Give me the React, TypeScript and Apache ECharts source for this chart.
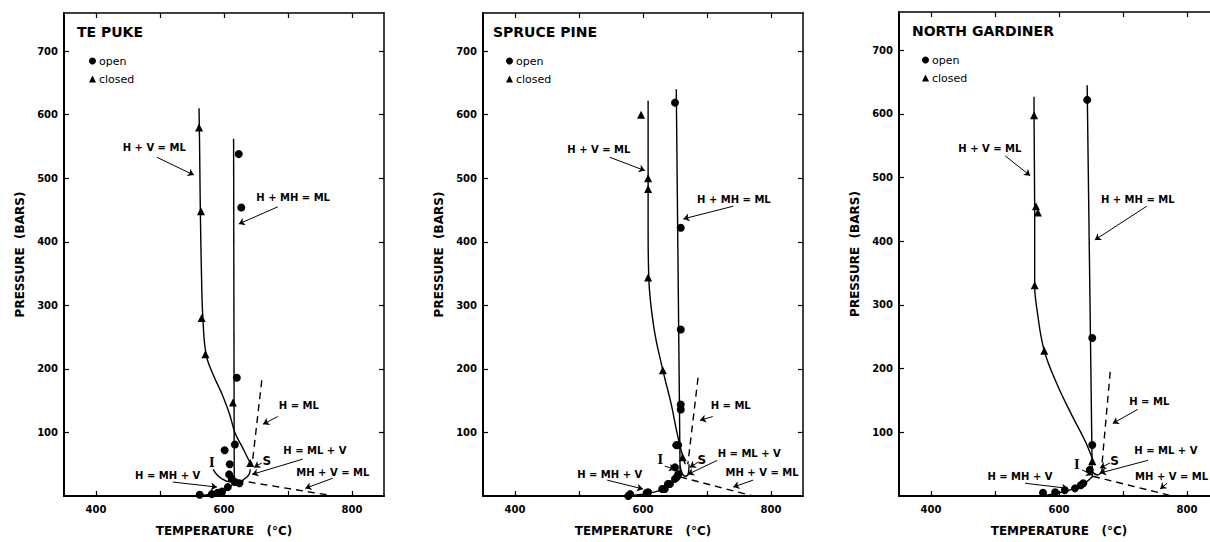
import React, { useEffect, useRef } from "react";
import * as echarts from "echarts";

// ---- shared axis values ----
const xTickValues = [400, 500, 600, 700, 800];
const xLabelValues = [400, 600, 800];
const yTickValues = [100, 200, 300, 400, 500, 600, 700];
const panelNames = ["TE PUKE", "SPRUCE PINE", "NORTH GARDINER"];

// ---- TE PUKE ----
const tpOpen = [[623, 538], [627, 454], [620, 186], [617, 81], [601, 72], [609, 50], [608, 34], [617, 22], [624, 20], [612, 27], [606, 14], [597, 7], [590, 5], [581, 3], [562, 2]];
const tpClosed = [[561, 580], [564, 448], [565, 280], [571, 223], [614, 147], [641, 52]];
const tpHVML = [[561, 610], [562, 540], [563, 450], [565, 340], [567, 280], [572, 223], [583, 191], [597, 160], [609, 128], [617, 100], [628, 78], [641, 52]];
const tpHMHML = [[615, 562], [616, 22]];
const tpHML = [[659, 182], [644, 50]];
const tpLoop = [[583, 42], [597, 27], [617, 22], [636, 30], [641, 42]];
const tpMHVML = [[620, 25], [772, 0]];
const tpHMHV = [[555, 0], [580, 3], [600, 8], [610, 15], [618, 24]];
const tpText = [["H + V = ML", 491, 548], ["H + MH = ML", 708, 469], ["H = ML", 717, 142], ["H = ML + V", 742, 72], ["MH + V = ML", 770, 37], ["H = MH + V", 512, 33], ["S", 667, 55], ["I", 581, 52]];
const tpArrows = [[495, 533, 553, 505], [684, 455, 623, 428], [684, 125, 661, 113], [723, 58, 644, 34], [770, 28, 727, 12], [520, 22, 589, 14], [659, 52, 647, 45]];

// ---- SPRUCE PINE ----
const spOpen = [[650, 619], [659, 422], [659, 262], [659, 144], [659, 136], [655, 80], [652, 80], [650, 45], [655, 34], [653, 30], [650, 27], [642, 19], [639, 19], [634, 11], [630, 11], [608, 6], [606, 5], [580, 3], [577, 0]];
const spClosed = [[597, 600], [608, 500], [608, 483], [608, 344], [631, 198], [662, 61]];
const spHVML = [[608, 622], [608, 500], [608, 420], [609, 344], [617, 265], [631, 198], [644, 145], [653, 100], [660, 70], [666, 50]];
const spHMHML = [[652, 640], [658, 35]];
const spHML = [[686, 186], [670, 50]];
const spLoop = [[658, 48], [661, 36], [666, 31], [671, 36], [672, 50]];
const spMHVML = [[658, 30], [772, 0]];
const spHMHV = [[570, 0], [600, 3], [630, 10], [648, 22], [658, 30]];
const spText = [["H + V = ML", 531, 545], ["H + MH = ML", 742, 466], ["H = ML", 737, 142], ["H = ML + V", 766, 67], ["MH + V = ML", 786, 37], ["H = MH + V", 548, 34], ["S", 692, 56], ["I", 627, 56]];
const spArrows = [[548, 533, 603, 512], [741, 456, 663, 436], [709, 125, 689, 119], [716, 56, 670, 34], [772, 25, 741, 14], [544, 25, 600, 11], [686, 53, 673, 45], [634, 47, 650, 42]];

// ---- NORTH GARDINER ----
const ngOpen = [[644, 622], [652, 248], [652, 80], [648, 41], [638, 20], [634, 17], [625, 12], [609, 9], [594, 6], [575, 5]];
const ngClosed = [[561, 598], [564, 455], [567, 445], [562, 331], [577, 228], [652, 55]];
const ngHVML = [[561, 627], [561, 598], [562, 455], [562, 331], [566, 290], [577, 228], [598, 173], [620, 127], [641, 86], [656, 48]];
const ngHMHML = [[644, 645], [652, 30]];
const ngHML = [[680, 195], [667, 48]];
const ngLoop = [[648, 48], [652, 38], [660, 33], [666, 38], [668, 48]];
const ngMHVML = [[653, 31], [777, 0]];
const ngHMHV = [[570, 0], [600, 5], [625, 12], [640, 20], [653, 31]];
const ngText = [["H + V = ML", 492, 545], ["H + MH = ML", 723, 466], ["H = ML", 741, 148], ["H = ML + V", 767, 72], ["MH + V = ML", 776, 31], ["H = MH + V", 539, 31], ["S", 687, 55], ["I", 628, 48]];
const ngArrows = [[516, 534, 555, 503], [737, 455, 656, 402], [723, 136, 684, 114], [739, 56, 664, 36], [769, 20, 758, 11], [547, 20, 614, 12], [680, 52, 664, 44], [636, 41, 652, 33]];

const panels = [
  { open: tpOpen, closed: tpClosed, hvml: tpHVML, hmhml: tpHMHML, hml: tpHML, loop: tpLoop, mhvml: tpMHVML, hmhv: tpHMHV, text: tpText, arrows: tpArrows },
  { open: spOpen, closed: spClosed, hvml: spHVML, hmhml: spHMHML, hml: spHML, loop: spLoop, mhvml: spMHVML, hmhv: spHMHV, text: spText, arrows: spArrows },
  { open: ngOpen, closed: ngClosed, hvml: ngHVML, hmhml: ngHMHML, hml: ngHML, loop: ngLoop, mhvml: ngMHVML, hmhv: ngHMHV, text: ngText, arrows: ngArrows },
];

// layout (pixels)
const gridLayout = [
  { left: 64, top: 13 },
  { left: 483, top: 13 },
  { left: 899, top: 12 },
];
const legendPos = [
  { left: 89, top: 55 },
  { left: 506, top: 55 },
  { left: 922, top: 54 },
];
const titlePos = [
  { left: 77, top: 25 },
  { left: 493, top: 25 },
  { left: 912, top: 24 },
];

const SANS = "DejaVu Sans";
const INK = "#000";

function buildOption() {
  const grid = gridLayout.map((g) => ({ left: g.left, top: g.top, width: 320, height: 486, show: false }));
  const xAxis: any[] = [];
  const yAxis: any[] = [];
  for (let i = 0; i < 3; i++) {
    xAxis.push({
      type: "value", gridIndex: i, min: 350, max: 850, position: "bottom",
      axisLine: { show: true, onZero: false, lineStyle: { color: INK, width: 2 } },
      axisTick: { show: true, inside: true, length: 5, customValues: xTickValues, lineStyle: { color: INK, width: 1.2 } },
      axisLabel: { show: true, customValues: xLabelValues, margin: 8, color: INK, fontFamily: SANS, fontSize: 10, fontWeight: "bold" },
      splitLine: { show: false },
      name: "TEMPERATURE   (°C)", nameLocation: "middle", nameGap: 29,
      nameTextStyle: { color: INK, fontFamily: SANS, fontSize: 12, fontWeight: "bold" },
    });
  }
  for (let i = 0; i < 3; i++) {
    xAxis.push({
      type: "value", gridIndex: i, min: 350, max: 850, position: "top",
      axisLine: { show: true, onZero: false, lineStyle: { color: INK, width: 1.5 } },
      axisTick: { show: true, inside: true, length: 5, customValues: xTickValues, lineStyle: { color: INK, width: 1.2 } },
      axisLabel: { show: false },
      splitLine: { show: false },
    });
  }
  for (let i = 0; i < 3; i++) {
    yAxis.push({
      type: "value", gridIndex: i, min: 0, max: 760, position: "left",
      axisLine: { show: true, onZero: false, lineStyle: { color: INK, width: 2 } },
      axisTick: { show: true, inside: true, length: 5, customValues: yTickValues, lineStyle: { color: INK, width: 1.2 } },
      axisLabel: { show: true, customValues: yTickValues, margin: 6, color: INK, fontFamily: SANS, fontSize: 10, fontWeight: "bold" },
      splitLine: { show: false },
      name: "PRESSURE  (BARS)", nameLocation: "middle", nameGap: 38, nameRotate: 90,
      nameTextStyle: { color: INK, fontFamily: SANS, fontSize: 12, fontWeight: "bold" },
    });
  }
  for (let i = 0; i < 3; i++) {
    yAxis.push({
      type: "value", gridIndex: i, min: 0, max: 760, position: "right",
      axisLine: { show: true, onZero: false, lineStyle: { color: INK, width: 1.5 } },
      axisTick: { show: true, inside: true, length: 5, customValues: yTickValues, lineStyle: { color: INK, width: 1.2 } },
      axisLabel: { show: false },
      splitLine: { show: false },
    });
  }

  const series: any[] = [];
  panels.forEach((p, i) => {
    const base = { xAxisIndex: i, yAxisIndex: i, silent: true, animation: false };
    const lineOf = (data: number[][], dashed: boolean, smooth: boolean | number) => ({
      ...base, type: "line", data, symbol: "none", smooth,
      lineStyle: { color: INK, width: 1.4, type: dashed ? [7, 5] : "solid" },
      z: 2,
    });
    series.push(lineOf(p.hvml, false, 0.4));
    series.push(lineOf(p.hmhml, false, false));
    series.push(lineOf(p.hml, true, false));
    series.push(lineOf(p.loop, false, 0.5));
    series.push(lineOf(p.mhvml, true, false));
    series.push(lineOf(p.hmhv, false, 0.4));
    series.push({
      ...base, type: "scatter", name: "open", symbol: "circle", symbolSize: 8,
      itemStyle: { color: INK, opacity: 1 }, data: p.open, z: 3,
    });
    series.push({
      ...base, type: "scatter", name: "closed", symbol: "triangle", symbolSize: 8,
      itemStyle: { color: INK, opacity: 1 }, data: p.closed, z: 3,
    });
    series.push({
      ...base, type: "scatter", name: "annotations" + i, symbolSize: 0,
      itemStyle: { color: INK, opacity: 1 },
      data: p.text.map((t: any) => {
        const isMark = t[0] === "I" || t[0] === "S";
        return {
          name: t[0], value: [t[1], t[2]],
          label: {
            show: true, position: "inside", formatter: "{b}", color: INK, opacity: 1,
            textBorderWidth: 0, textBorderColor: "transparent",
            fontFamily: t[0] === "I" ? "DejaVu Serif" : SANS,
            fontSize: isMark ? 12 : 10, fontWeight: "bold",
          },
        };
      }),
      markLine: {
        silent: true, symbol: ["none", "arrow"], symbolSize: 6,
        label: { show: false },
        lineStyle: { color: INK, width: 1, type: "solid", opacity: 1 },
        data: p.arrows.map((a) => [{ coord: [a[0], a[1]] }, { coord: [a[2], a[3]] }]),
      },
      z: 4,
    });
  });

  const legend = legendPos.map((l) => ({
    left: l.left, top: l.top, orient: "vertical", itemWidth: 7, itemHeight: 7, itemGap: 6,
    selectedMode: false, padding: 0,
    itemStyle: { color: INK, opacity: 1 },
    textStyle: { color: INK, fontFamily: SANS, fontSize: 11, lineHeight: 12, padding: [0, 0, 0, -2] },
    data: [{ name: "open", icon: "circle" }, { name: "closed", icon: "triangle" }],
  }));

  const title = titlePos.map((t, i) => ({
    text: panelNames[i], left: t.left, top: t.top, padding: 0,
    textStyle: { color: INK, fontFamily: SANS, fontSize: 14, fontWeight: "bold" },
  }));

  return {
    animation: false,
    backgroundColor: "#fff",
    title, legend, grid, xAxis, yAxis, series,
  };
}

export default function App() {
  const ref = useRef<HTMLDivElement>(null);
  useEffect(() => {
    if (!ref.current) return;
    const chart = echarts.init(ref.current, undefined, { renderer: "svg" });
    chart.setOption(buildOption() as any);
    return () => chart.dispose();
  }, []);
  return (
    <div style={{ position: "absolute", left: 0, top: 0, width: 1210, height: 542, overflow: "hidden", background: "#fff" }}>
      <div ref={ref} style={{ width: 1230, height: 542 }} />
    </div>
  );
}
